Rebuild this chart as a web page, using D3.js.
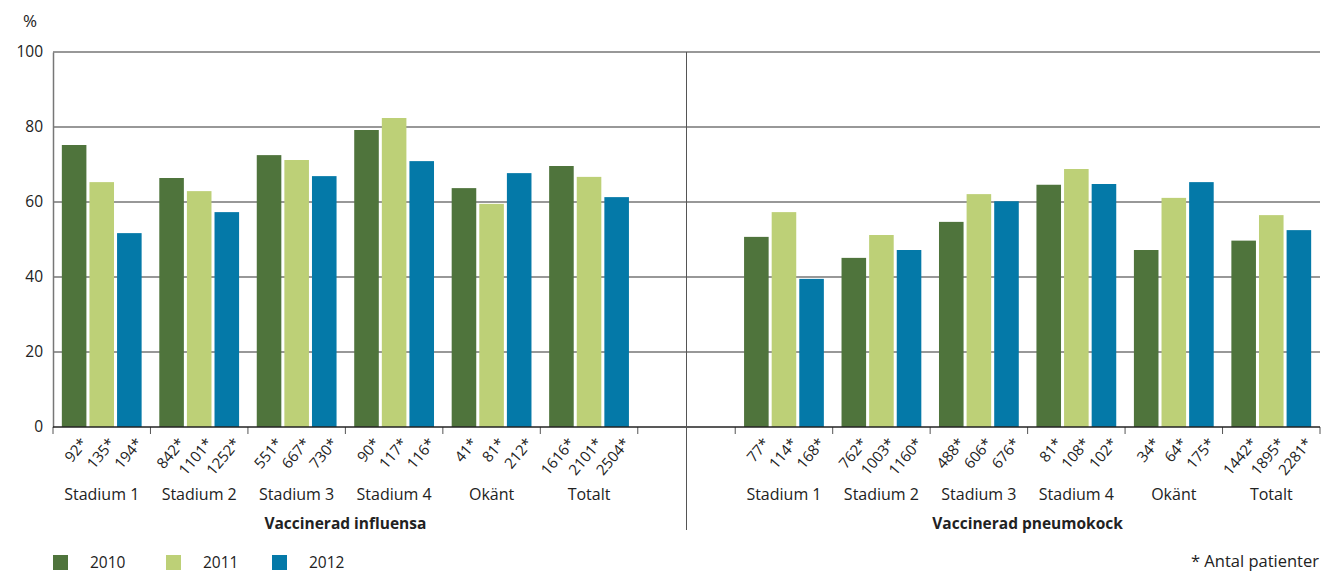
<!DOCTYPE html>
<html><head><meta charset="utf-8">
<script src="https://cdn.jsdelivr.net/npm/d3@7"></script>
<style>
body{margin:0;background:#fff;}
text{font-family:"Open Sans","Noto Sans",sans-serif;fill:#222;}
</style></head><body>
<svg id="c" width="1323" height="574"></svg>
<script>
const categories = ["Stadium 1","Stadium 2","Stadium 3","Stadium 4","Okänt","Totalt"];
const years = ["2010","2011","2012"];
const panels = ["Vaccinerad influensa","Vaccinerad pneumokock"];
const influensa2010 = [75.2,66.4,72.5,79.2,63.7,69.6];
const influensa2011 = [65.3,62.9,71.2,82.4,59.5,66.7];
const influensa2012 = [51.7,57.3,66.9,70.9,67.7,61.3];
const pneumo2010 = [50.7,45.1,54.7,64.6,47.2,49.7];
const pneumo2011 = [57.3,51.2,62.1,68.8,61.1,56.5];
const pneumo2012 = [39.5,47.2,60.2,64.8,65.3,52.5];
const influensaN = [[92,135,194],[842,1101,1252],[551,667,730],[90,117,116],[41,81,212],[1616,2101,2504]];
const pneumoN = [[77,114,168],[762,1003,1160],[488,606,676],[81,108,102],[34,64,175],[1442,1895,2281]];
const yTicks = [0,20,40,60,80,100];
const colors = ["#4f743c","#bdd077","#0479a8"];

const svg = d3.select("#c");
const L = 53, R = 1320, T = 52, B = 427;
const slots = d3.range(13);
const xSlot = d3.scaleBand().domain(slots).range([L,R]).padding(0);
const xInner = d3.scaleBand().domain(years).range([0,xSlot.bandwidth()]).paddingInner(0.11).paddingOuter(0.32);
const y = d3.scaleLinear().domain([0,100]).range([B,T]);

// gridlines
svg.append("g").selectAll("line").data(yTicks.filter(d=>d>0)).join("line")
  .attr("x1",L).attr("x2",R).attr("y1",d=>y(d)).attr("y2",d=>y(d))
  .attr("stroke","#333").attr("stroke-width",1.2);

// y axis
const yAxis = svg.append("g").attr("transform",`translate(${L},0)`)
  .call(d3.axisLeft(y).tickValues(yTicks).tickSize(0).tickPadding(10));
yAxis.select(".domain").attr("stroke","#777").attr("stroke-width",1.5);
yAxis.selectAll("text").style("font-size","15.5px").style("font-family","'Open Sans',sans-serif").attr("fill","#222");
svg.append("text").attr("x",30).attr("y",27).attr("text-anchor","middle").style("font-size","17px").text("%");

const panelData = [
  {slot0:0, vals:[influensa2010,influensa2011,influensa2012], n:influensaN, title:panels[0]},
  {slot0:7, vals:[pneumo2010,pneumo2011,pneumo2012], n:pneumoN, title:panels[1]}
];

panelData.forEach(p=>{
  const g = svg.append("g");
  categories.forEach((c,i)=>{
    const sx = xSlot(p.slot0+i);
    years.forEach((yr,j)=>{
      const v = p.vals[j][i];
      g.append("rect").attr("x",sx+xInner(yr)).attr("width",xInner.bandwidth())
        .attr("y",y(v)).attr("height",y(0)-y(v)).attr("fill",colors[j]);
      const cx = sx+xInner(yr)+xInner.bandwidth()/2;
      g.append("text").attr("transform",`translate(${cx+6},${B+10}) rotate(-50)`)
        .attr("text-anchor","end").attr("dy","0.7em").style("font-size","15px").text(p.n[i][j]+"*");
    });
    g.append("text").attr("x",sx+xSlot.bandwidth()/2).attr("y",500).attr("text-anchor","middle")
      .style("font-size","16px").text(c);
  });
  // ticks
  const tx = d3.range(7).map(k=>xSlot(p.slot0)+k*xSlot.bandwidth());
  g.selectAll("line.t").data(tx).join("line").attr("x1",d=>d).attr("x2",d=>d)
    .attr("y1",B).attr("y2",B+7).attr("stroke","#555").attr("stroke-width",1);
  g.append("text").attr("x",xSlot(p.slot0)+3*xSlot.bandwidth()).attr("y",529).attr("text-anchor","middle")
    .style("font-size","15.5px").style("font-weight","bold").text(p.title);
});

// baseline
svg.append("line").attr("x1",L).attr("x2",R).attr("y1",B).attr("y2",B).attr("stroke","#222").attr("stroke-width",1.5);
// divider
const dvx = xSlot(6)+xSlot.bandwidth()/2;
svg.append("line").attr("x1",dvx).attr("x2",dvx).attr("y1",T).attr("y2",530).attr("stroke","#555").attr("stroke-width",1);

// legend
const lg = svg.append("g");
years.forEach((yr,j)=>{
  const lx = [53,166,272][j];
  lg.append("rect").attr("x",lx).attr("y",555).attr("width",15).attr("height",15).attr("fill",colors[j]);
  lg.append("text").attr("x",lx+37).attr("y",568).style("font-size","15.5px").text(yr);
});
svg.append("text").attr("x",1319).attr("y",567).attr("text-anchor","end").style("font-size","16.5px").text("* Antal patienter");
</script>
</body></html>
